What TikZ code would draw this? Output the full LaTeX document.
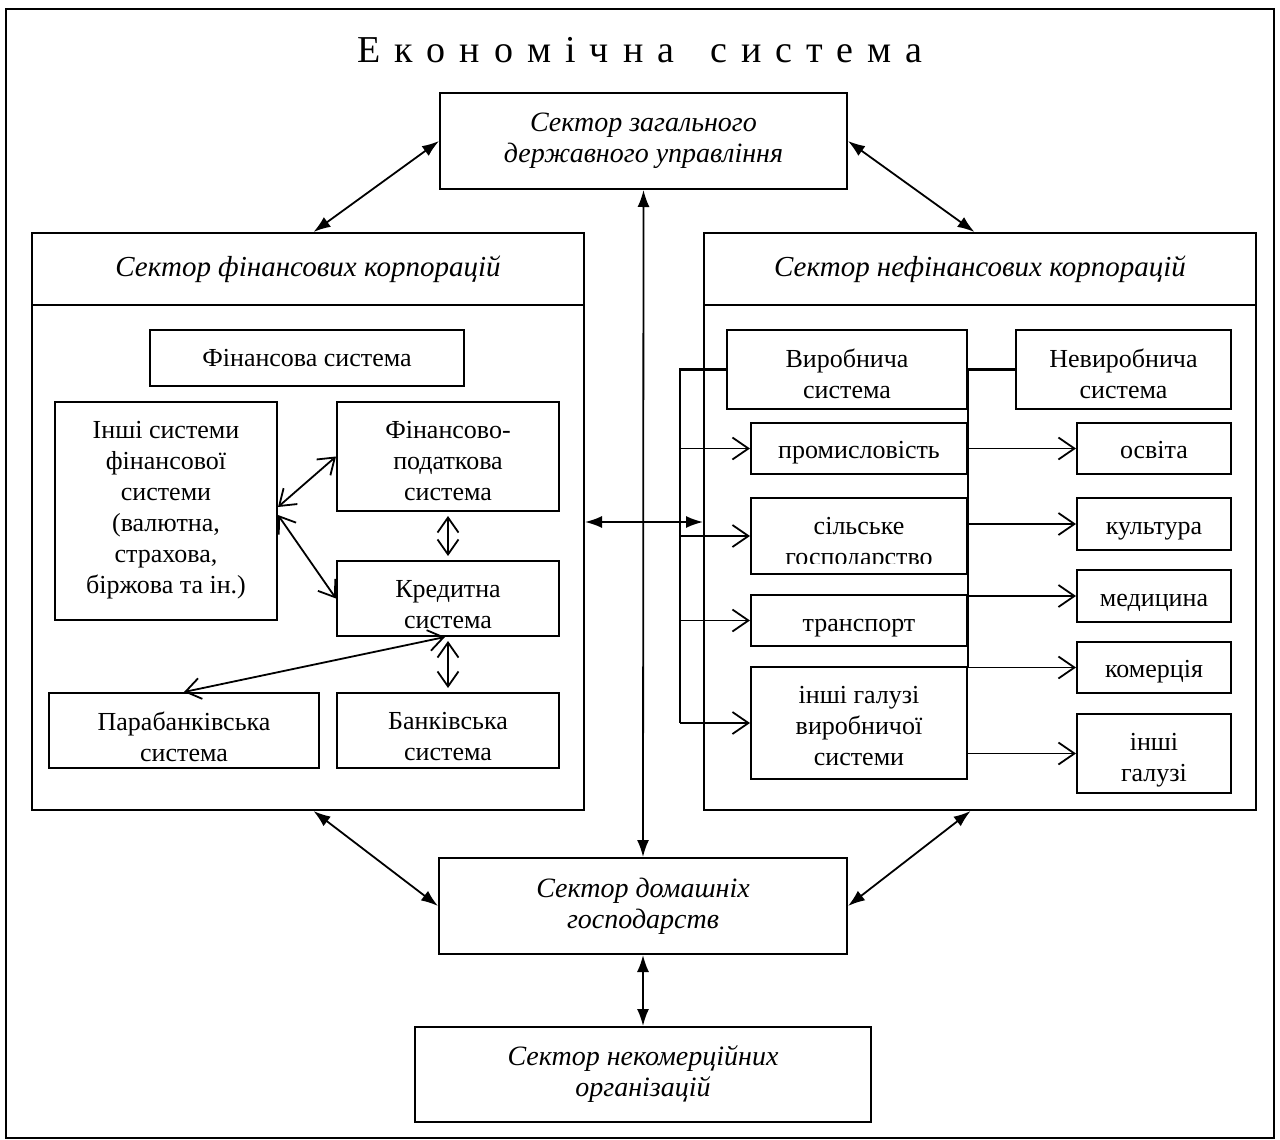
\documentclass[tikz,border=0pt]{standalone}
\usepackage{fontspec}
\setmainfont{Liberation Serif}
\usetikzlibrary{arrows.meta,calc}
\newcommand\tsp{\hspace{14pt}}
\begin{document}
\begin{tikzpicture}[x=1pt,y=-1pt,
  box/.style={draw, line width=2pt, inner sep=0pt},
  sbox/.style={box, align=center, font=\fontsize{28}{31}\selectfont\itshape},
  hbox/.style={box, align=center, font=\fontsize{29}{33}\selectfont\itshape},
  lbl/.style={inner sep=0pt, anchor=north, align=center, font=\fontsize{26}{31}\selectfont,
    execute at begin node={\rule{0pt}{20pt}}, execute at end node={\rule[-7pt]{0pt}{7pt}}},
  conn/.style={line width=1.8pt},
  fa/.style={conn, {Latex[length=17pt,width=12pt]}-{Latex[length=17pt,width=12pt]}},
  oa/.style={conn, -{Straight Barb[length=16pt,width=22pt]}},
  doa/.style={conn, {Straight Barb[length=15pt,width=21pt]}-{Straight Barb[length=15pt,width=21pt]}},
  bus/.style={line width=2.8pt}]
\useasboundingbox (0,0) rectangle (1280,1140);
\fill[white] (0,0) rectangle (1280,1140);
\node[draw, line width=1.8pt, minimum width=1268pt, minimum height=1129pt] (frame) at (640,573.5) {};
\node[font=\fontsize{38}{44}\selectfont] (title) at (640,50)
  {Е\tsp к\tsp о\tsp н\tsp о\tsp м\tsp і\tsp ч\tsp н\tsp а\hspace{36pt}с\tsp и\tsp с\tsp т\tsp е\tsp м\tsp а};
% sectors
\node[sbox, minimum width=407pt, minimum height=96pt] (gov) at (643.5,141) {Сектор загального\\державного управління};
\node[hbox, minimum width=552pt, minimum height=72pt] (finh) at (308,269) {Сектор фінансових корпорацій};
\node[box, minimum width=552pt, minimum height=505pt] (finb) at (308,557.5) {};
\node[hbox, minimum width=552pt, minimum height=72pt] (nonfh) at (980,269) {Сектор нефінансових корпорацій};
\node[box, minimum width=552pt, minimum height=505pt] (nonfb) at (980,557.5) {};
\node[sbox, minimum width=408pt, minimum height=96pt] (hh) at (643,906) {Сектор домашніх\\господарств};
\node[sbox, minimum width=456pt, minimum height=95pt] (nc) at (643,1074.5) {Сектор некомерційних\\організацій};
% financial inner
\node[box, minimum width=314pt, minimum height=56pt] (finsys) at (307,358) {};
\node[lbl] (finsysT) at ([yshift=-17pt]finsys.north) {Фінансова система};
\node[box, minimum width=222pt, minimum height=218pt] (inshi) at (166,511) {};
\node[lbl] (inshiT) at ([yshift=-20pt]inshi.north) {Інші системи\\фінансової\\системи\\(валютна,\\страхова,\\біржова та ін.)};
\node[box, minimum width=222pt, minimum height=109pt] (fp) at (448,456.5) {};
\node[lbl] (fpT) at ([yshift=-20pt]fp.north) {Фінансово-\\податкова\\система};
\node[box, minimum width=222pt, minimum height=75pt] (kr) at (448,598.5) {};
\node[lbl] (krT) at ([yshift=-20pt]kr.north) {Кредитна\\система};
\node[box, minimum width=270pt, minimum height=75pt] (para) at (184,730.5) {};
\node[lbl] (paraT) at ([yshift=-20pt]para.north) {Парабанківська\\система};
\node[box, minimum width=222pt, minimum height=75pt] (bank) at (448,730.5) {};
\node[lbl] (bankT) at ([yshift=-20pt]bank.north) {Банківська\\система};
% non-financial inner
\node[box, minimum width=240pt, minimum height=79pt] (vyr) at (847,369.5) {};
\node[lbl] (vyrT) at ([yshift=-20pt]vyr.north) {Виробнича\\система};
\node[box, minimum width=215pt, minimum height=79pt] (nevyr) at (1123.5,369.5) {};
\node[lbl] (nevyrT) at ([yshift=-20pt]nevyr.north) {Невиробнича\\система};
\node[box, minimum width=216pt, minimum height=51pt] (prom) at (859,448.5) {};
\node[lbl] (promT) at ([yshift=-16pt]prom.north) {промисловість};
\node[box, minimum width=216pt, minimum height=76pt] (sil) at (859,536) {};
\begin{scope}
  \clip (751,499) rectangle (967,563);
  \node[lbl] (silT) at ([yshift=-20pt]sil.north) {сільське\\господарство};
\end{scope}
\node[box, minimum width=216pt, minimum height=51pt] (tran) at (859,620.5) {};
\node[lbl] (tranT) at ([yshift=-17pt]tran.north) {транспорт};
\node[box, minimum width=216pt, minimum height=112pt] (insh) at (859,723) {};
\node[lbl] (inshT) at ([yshift=-20pt]insh.north) {інші галузі\\виробничої\\системи};
\node[box, minimum width=154pt, minimum height=51pt] (osv) at (1154,448.5) {};
\node[lbl] (osvT) at ([yshift=-16pt]osv.north) {освіта};
\node[box, minimum width=154pt, minimum height=52pt] (kult) at (1154,524) {};
\node[lbl] (kultT) at ([yshift=-17pt]kult.north) {культура};
\node[box, minimum width=154pt, minimum height=52pt] (med) at (1154,596) {};
\node[lbl] (medT) at ([yshift=-17pt]med.north) {медицина};
\node[box, minimum width=154pt, minimum height=51pt] (kom) at (1154,667.5) {};
\node[lbl] (komT) at ([yshift=-16pt]kom.north) {комерція};
\node[box, minimum width=154pt, minimum height=79pt] (inshg) at (1154,753.5) {};
\node[lbl] (inshgT) at ([yshift=-20pt]inshg.north) {інші\\галузі};
% sector connectors
\draw[fa] (gov.west) -- ($(finh.north west)!0.51!(finh.north east)$);
\draw[fa] (gov.east) -- ($(nonfh.north west)!0.49!(nonfh.north east)$);
\draw[fa] (gov.south) -- (hh.north);
\draw[fa] ($(finb.south west)!0.51!(finb.south east)$) -- (hh.west);
\draw[fa] ($(nonfb.south west)!0.483!(nonfb.south east)$) -- (hh.east);
\draw[fa] (hh.south) -- (nc.north);
\coordinate (mid) at (645,522);
\draw[fa] (finb.east |- mid) -- (nonfb.west |- mid);
% financial inner connectors
\draw[doa] ([yshift=4pt]inshi.east) -- (fp.west);
\draw[doa] ([yshift=-4pt]inshi.east) -- (kr.west);
\draw[doa, shorten <=4pt, shorten >=4pt] (fp.south) -- (kr.north);
\draw[doa, shorten <=4pt, shorten >=4pt] (kr.south) -- (bank.north);
\draw[doa] ([xshift=-3pt]kr.south) -- (para.north);
% non-financial inner connectors
\coordinate (busL) at (680,0);
\draw[bus] (vyr.west) -| (busL |- insh.west);
\draw[oa] (busL |- prom.west) -- (prom.west);
\draw[oa] (busL |- sil.west) -- (sil.west);
\draw[oa] (busL |- tran.west) -- (tran.west);
\draw[oa] (busL |- insh.west) -- (insh.west);
\draw[bus] (nevyr.west) -- (vyr.east) -- (vyr.east |- kom.west);
\draw[oa] (vyr.east |- osv.west) -- (osv.west);
\draw[oa] (vyr.east |- kult.west) -- (kult.west);
\draw[oa] (vyr.east |- med.west) -- (med.west);
\draw[oa] (vyr.east |- kom.west) -- (kom.west);
\draw[oa] (vyr.east |- inshg.west) -- (inshg.west);
\end{tikzpicture}
\end{document}
